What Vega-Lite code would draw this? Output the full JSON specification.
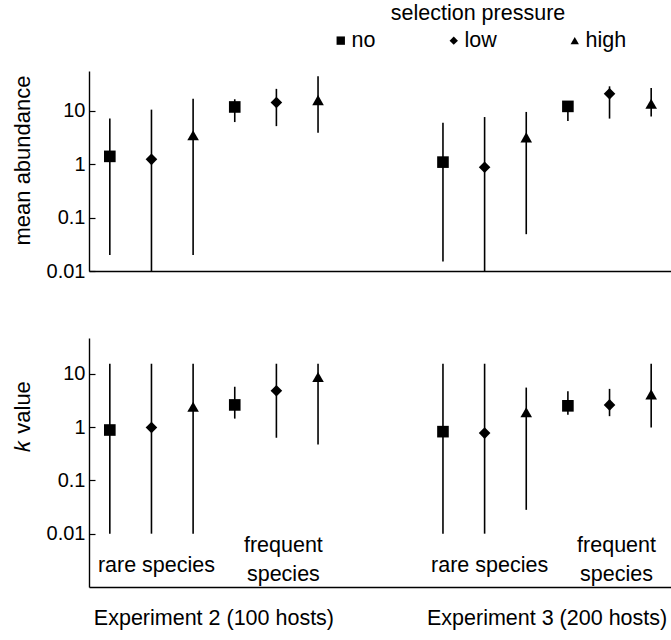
{
  "$schema": "https://vega.github.io/schema/vega-lite/v6.json",
  "description": "Mean abundance and k value of rare and frequent species under three levels of selection pressure.",
  "background": "white",
  "padding": {"left": 11, "top": 3, "right": 0, "bottom": 5},
  "datasets": {
    "abundance": [
      {"experiment": "Experiment 2 (100 hosts)", "group": "rare no", "pressure": "no", "mean": 1.41, "lo": 0.02, "hi": 7.2},
      {"experiment": "Experiment 2 (100 hosts)", "group": "rare low", "pressure": "low", "mean": 1.24, "lo": 0.01, "hi": 10.6},
      {"experiment": "Experiment 2 (100 hosts)", "group": "rare high", "pressure": "high", "mean": 3.5, "lo": 0.02, "hi": 17},
      {"experiment": "Experiment 2 (100 hosts)", "group": "frequent no", "pressure": "no", "mean": 11.9, "lo": 6.2, "hi": 16.6},
      {"experiment": "Experiment 2 (100 hosts)", "group": "frequent low", "pressure": "low", "mean": 14.4, "lo": 5.2, "hi": 26},
      {"experiment": "Experiment 2 (100 hosts)", "group": "frequent high", "pressure": "high", "mean": 16, "lo": 3.9, "hi": 45},
      {"experiment": "Experiment 3 (200 hosts)", "group": "rare no", "pressure": "no", "mean": 1.1, "lo": 0.015, "hi": 6.0},
      {"experiment": "Experiment 3 (200 hosts)", "group": "rare low", "pressure": "low", "mean": 0.88, "lo": 0.01, "hi": 7.7},
      {"experiment": "Experiment 3 (200 hosts)", "group": "rare high", "pressure": "high", "mean": 3.2, "lo": 0.049, "hi": 9.6},
      {"experiment": "Experiment 3 (200 hosts)", "group": "frequent no", "pressure": "no", "mean": 12.2, "lo": 6.5, "hi": 14.7},
      {"experiment": "Experiment 3 (200 hosts)", "group": "frequent low", "pressure": "low", "mean": 21, "lo": 7.2, "hi": 29},
      {"experiment": "Experiment 3 (200 hosts)", "group": "frequent high", "pressure": "high", "mean": 13.7, "lo": 7.9, "hi": 27}
    ],
    "kvalue": [
      {"experiment": "Experiment 2 (100 hosts)", "group": "rare no", "pressure": "no", "mean": 0.88, "lo": 0.01, "hi": 15.4},
      {"experiment": "Experiment 2 (100 hosts)", "group": "rare low", "pressure": "low", "mean": 0.98, "lo": 0.01, "hi": 15.4},
      {"experiment": "Experiment 2 (100 hosts)", "group": "rare high", "pressure": "high", "mean": 2.4, "lo": 0.01, "hi": 15.4},
      {"experiment": "Experiment 2 (100 hosts)", "group": "frequent no", "pressure": "no", "mean": 2.6, "lo": 1.44, "hi": 5.7},
      {"experiment": "Experiment 2 (100 hosts)", "group": "frequent low", "pressure": "low", "mean": 4.8, "lo": 0.63, "hi": 15.4},
      {"experiment": "Experiment 2 (100 hosts)", "group": "frequent high", "pressure": "high", "mean": 8.7, "lo": 0.47, "hi": 15.4},
      {"experiment": "Experiment 3 (200 hosts)", "group": "rare no", "pressure": "no", "mean": 0.82, "lo": 0.01, "hi": 15.4},
      {"experiment": "Experiment 3 (200 hosts)", "group": "rare low", "pressure": "low", "mean": 0.77, "lo": 0.01, "hi": 15.4},
      {"experiment": "Experiment 3 (200 hosts)", "group": "rare high", "pressure": "high", "mean": 1.9, "lo": 0.028, "hi": 5.5},
      {"experiment": "Experiment 3 (200 hosts)", "group": "frequent no", "pressure": "no", "mean": 2.5, "lo": 1.7, "hi": 4.7},
      {"experiment": "Experiment 3 (200 hosts)", "group": "frequent low", "pressure": "low", "mean": 2.6, "lo": 1.6, "hi": 5.2},
      {"experiment": "Experiment 3 (200 hosts)", "group": "frequent high", "pressure": "high", "mean": 4.1, "lo": 0.98, "hi": 15.4}
    ],
    "species": [
      {"experiment": "Experiment 2 (100 hosts)", "group": "rare low", "kind": "rare", "label": "rare species"},
      {"experiment": "Experiment 2 (100 hosts)", "group": "frequent low", "kind": "frequent", "label": "frequent\nspecies"},
      {"experiment": "Experiment 3 (200 hosts)", "group": "rare low", "kind": "rare", "label": "rare species"},
      {"experiment": "Experiment 3 (200 hosts)", "group": "frequent low", "kind": "frequent", "label": "frequent\nspecies"}
    ]
  },
  "spacing": 57,
  "vconcat": [
    {
      "width": 583,
      "height": 200,
      "data": {"name": "abundance"},
      "encoding": {
        "x": {
          "field": "experiment", "type": "nominal",
          "scale": {"type": "band", "paddingInner": 0.25, "paddingOuter": 0},
          "axis": {"title": null, "labels": false, "ticks": false}
        },
        "xOffset": {
          "field": "group", "type": "nominal",
          "scale": {"domain": ["rare no", "rare low", "rare high", "frequent no", "frequent low", "frequent high"]}
        }
      },
      "layer": [
        {
          "mark": {"type": "rule", "color": "black", "strokeWidth": 1.6},
          "encoding": {
            "y": {
              "field": "lo", "type": "quantitative",
              "scale": {"type": "log", "domain": [0.01, 56.2], "nice": false},
              "axis": {"title": "mean abundance", "values": [0.01, 0.1, 1, 10], "format": "~g", "tickSize": -6, "labelPadding": 10, "titlePadding": 12, "titleY": 89}
            },
            "y2": {"field": "hi"}
          }
        },
        {
          "mark": {"type": "point", "filled": true, "color": "black", "opacity": 1, "size": 135},
          "encoding": {
            "y": {"field": "mean", "type": "quantitative"},
            "shape": {
              "field": "pressure", "type": "nominal",
              "scale": {"domain": ["no", "low", "high"], "range": ["square", "diamond", "triangle-up"]},
              "legend": {
                "title": "selection pressure",
                "orient": "none", "legendX": 241, "legendY": -68,
                "direction": "horizontal",
                "titleAnchor": "middle",
                "columnPadding": 67,
                "symbolSize": 70,
                "symbolFillColor": "black",
                "symbolStrokeColor": "black",
                "labelOffset": 0,
                "titlePadding": 5
              }
            }
          }
        }
      ]
    },
    {
      "width": 583,
      "height": 249,
      "encoding": {
        "x": {
          "field": "experiment", "type": "nominal",
          "scale": {"type": "band", "paddingInner": 0.25, "paddingOuter": 0},
          "axis": {"title": null, "ticks": false, "labelAngle": 0, "labelPadding": 20, "labelFontSize": 21.5, "labelLimit": 0}
        },
        "xOffset": {
          "field": "group", "type": "nominal",
          "scale": {"domain": ["rare no", "rare low", "rare high", "frequent no", "frequent low", "frequent high"]}
        }
      },
      "layer": [
        {
          "data": {"name": "kvalue"},
          "mark": {"type": "rule", "color": "black", "strokeWidth": 1.6},
          "encoding": {
            "y": {
              "field": "lo", "type": "quantitative",
              "scale": {"type": "log", "domain": [0.001, 46.8], "nice": false},
              "axis": {"title": "𝑘 value", "values": [0.01, 0.1, 1, 10], "format": "~g", "tickSize": -6, "labelPadding": 10, "titlePadding": 12, "titleY": 78}
            },
            "y2": {"field": "hi"}
          }
        },
        {
          "data": {"name": "kvalue"},
          "mark": {"type": "point", "filled": true, "color": "black", "opacity": 1, "size": 135},
          "encoding": {
            "y": {"field": "mean", "type": "quantitative"},
            "shape": {"field": "pressure", "type": "nominal"}
          }
        },
        {
          "data": {"name": "species"},
          "transform": [{"filter": "datum.kind === 'rare'"}],
          "mark": {"type": "text", "fontSize": 21.5, "color": "black", "baseline": "alphabetic", "dx": 5},
          "encoding": {
            "y": {"datum": 0.00192, "type": "quantitative"},
            "text": {"field": "label", "type": "nominal"}
          }
        },
        {
          "data": {"name": "species"},
          "transform": [{"filter": "datum.kind === 'frequent'"}],
          "mark": {"type": "text", "fontSize": 21.5, "color": "black", "lineBreak": "\n", "lineHeight": 28.7, "baseline": "alphabetic", "dx": 7},
          "encoding": {
            "y": {"datum": 0.00449, "type": "quantitative"},
            "text": {"field": "label", "type": "nominal"}
          }
        }
      ]
    }
  ],
  "config": {
    "font": "Liberation Sans",
    "view": {"stroke": null},
    "axis": {
      "grid": false,
      "domainColor": "black",
      "domainWidth": 1.4,
      "tickColor": "black",
      "tickWidth": 1.2,
      "labelColor": "black",
      "labelFontSize": 20,
      "titleColor": "black",
      "titleFontSize": 22,
      "titleFontWeight": "normal"
    },
    "legend": {
      "labelFontSize": 21.5,
      "labelColor": "black",
      "titleFontSize": 21.5,
      "titleFontWeight": "normal",
      "titleColor": "black"
    }
  }
}
